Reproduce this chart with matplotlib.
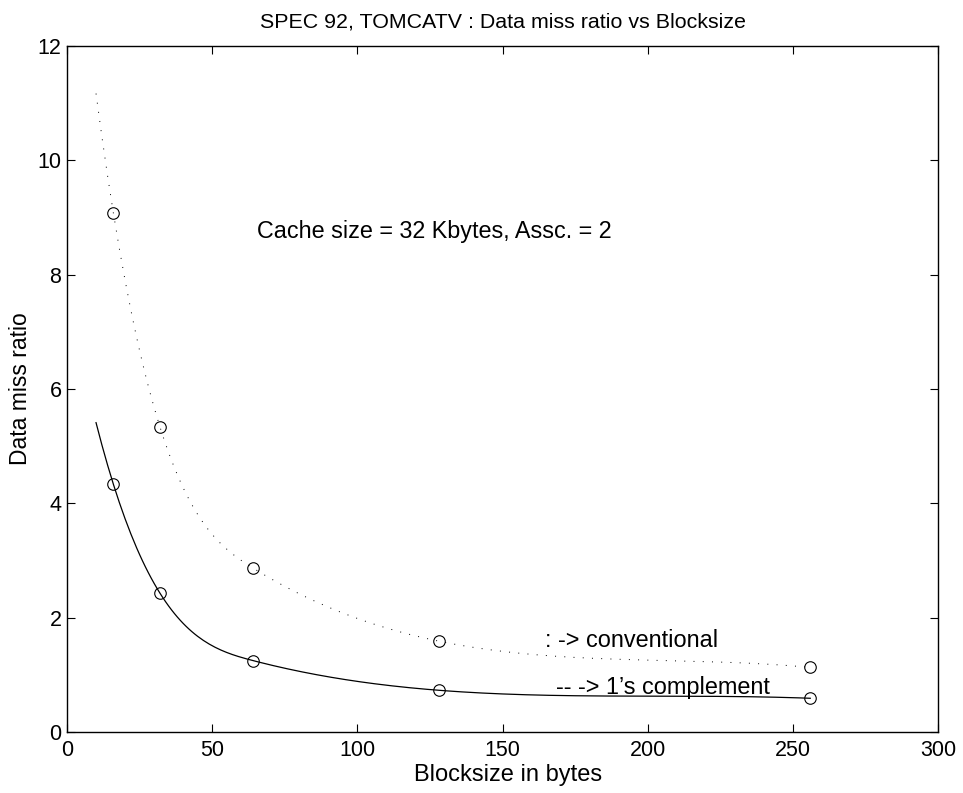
import numpy as np
import matplotlib
matplotlib.use("Agg")
import matplotlib.pyplot as plt

plt.rcParams['font.family'] = ['Liberation Sans', 'DejaVu Sans']

# Data
blocksize = [16, 32, 64, 128, 256]
conventional = [9.07, 5.34, 2.87, 1.59, 1.13]
ones_complement = [4.33, 2.43, 1.25, 0.73, 0.59]
curve_start = 10
xticks = [0, 50, 100, 150, 200, 250, 300]
yticks = [0, 2, 4, 6, 8, 10, 12]

title = "SPEC 92, TOMCATV : Data miss ratio vs Blocksize"
xlabel = "Blocksize in bytes"
ylabel = "Data miss ratio"
note = "Cache size = 32 Kbytes, Assc. = 2"
label_conv = ": -> conventional"
label_ones = "-- -> 1\u2019s complement"


def nak_spline(x, y, xq):
    """Not-a-knot cubic spline (like MATLAB spline) through the data."""
    x = np.asarray(x, float)
    y = np.asarray(y, float)
    xq = np.asarray(xq, float)
    n = len(x) - 1
    h = np.diff(x)
    M = np.zeros((4 * n, 4 * n))
    r = np.zeros(4 * n)
    row = 0
    for i in range(n):
        M[row, 4 * i] = 1
        r[row] = y[i]
        row += 1
        M[row, 4 * i:4 * i + 4] = [1, h[i], h[i] ** 2, h[i] ** 3]
        r[row] = y[i + 1]
        row += 1
    for i in range(n - 1):
        M[row, 4 * i:4 * i + 4] = [0, 1, 2 * h[i], 3 * h[i] ** 2]
        M[row, 4 * (i + 1) + 1] = -1
        row += 1
        M[row, 4 * i:4 * i + 4] = [0, 0, 2, 6 * h[i]]
        M[row, 4 * (i + 1) + 2] = -2
        row += 1
    M[row, 3] = 1
    M[row, 7] = -1
    row += 1
    M[row, 4 * (n - 2) + 3] = 1
    M[row, 4 * (n - 1) + 3] = -1
    coef = np.linalg.solve(M, r).reshape(n, 4)
    idx = np.clip(np.searchsorted(x, xq, side='right') - 1, 0, n - 1)
    t = xq - x[idx]
    c = coef[idx]
    return c[:, 0] + c[:, 1] * t + c[:, 2] * t ** 2 + c[:, 3] * t ** 3


xs = np.arange(curve_start, blocksize[-1] + 1)
conv_curve = nak_spline(blocksize, conventional, xs)
ones_curve = nak_spline(blocksize, ones_complement, xs)

fig = plt.figure(figsize=(9.63, 7.93), dpi=100)
ax = fig.add_axes([67 / 963, 61 / 793, (938 - 67) / 963, (732 - 46) / 793])

ax.plot(xs, conv_curve, color='black', lw=0.7, linestyle=(0, (1, 8.5)))
ax.plot(xs, ones_curve, color='black', lw=0.9, linestyle='-')
ax.plot(blocksize, conventional, linestyle='none', marker='o', ms=8.3,
        mfc='none', mec='black', mew=0.8)
ax.plot(blocksize, ones_complement, linestyle='none', marker='o', ms=8.3,
        mfc='none', mec='black', mew=0.8)

ax.set_xlim(xticks[0], xticks[-1])
ax.set_ylim(yticks[0], yticks[-1])
ax.set_xticks(xticks)
ax.set_yticks(yticks)
ax.tick_params(direction='in', length=6, width=0.8, top=True, right=True,
               labelsize=15.5)
ax.tick_params(axis='x', pad=5.5)
ax.tick_params(axis='y', pad=4)
for s in ax.spines.values():
    s.set_linewidth(1.0)

ax.set_xlabel(xlabel, fontsize=17, labelpad=2.5)
ax.xaxis.set_label_coords(0.506, -0.046, transform=None)
ax.xaxis.label.set_transform(ax.transAxes)
ax.xaxis.label.set_va('top')
ax.set_ylabel(ylabel, fontsize=16.5, labelpad=4)

ax.text(65.5, 8.64, note, fontsize=16.8, va='baseline', ha='left')
ax.text(164.8, 1.487, label_conv, fontsize=16.9, va='baseline', ha='left')
ax.text(168.3, 0.665, label_ones, fontsize=16.9, va='baseline', ha='left')

fig.text(502.5 / 963, 1 - 27 / 793, title, fontsize=15.4, ha='center',
         va='baseline')

fig.savefig('out.png', dpi=100)
